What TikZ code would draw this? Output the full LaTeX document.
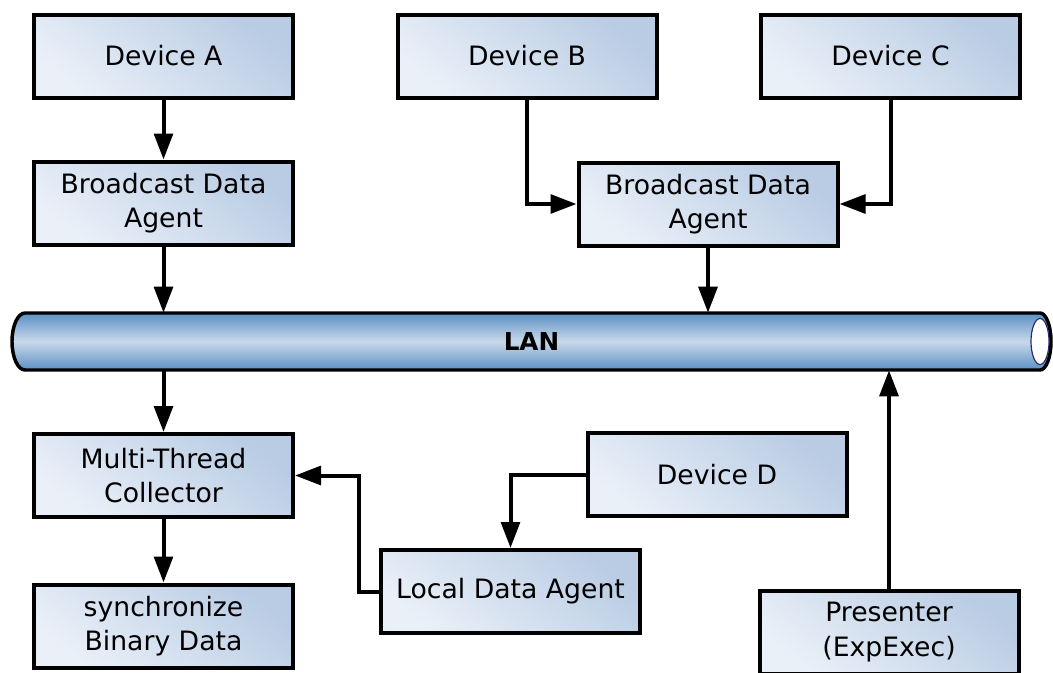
\documentclass[tikz,border=0pt]{standalone}
\usepackage{fontspec}
\setmainfont{DejaVu Sans}
\usetikzlibrary{arrows.meta}

\definecolor{boxlight}{HTML}{EAF0F8}
\definecolor{boxdark}{HTML}{B9CCE4}
\definecolor{lanedge}{HTML}{5A90C4}
\definecolor{lanmid}{HTML}{C9D8EA}
\definecolor{capline}{HTML}{2E2C6E}

\tikzset{
  stepbox/.style={draw=black, line width=3pt, rectangle,
    minimum width=194.25pt, minimum height=62.25pt, inner sep=0pt,
    top color=boxdark, bottom color=boxlight, shading angle=-40,
    align=center, font=\fontsize{20}{26}\selectfont},
  link/.style={line width=3pt, draw=black,
    -{Triangle[length=19.5pt,width=14pt]}},
}

\begin{document}
\begin{tikzpicture}[x=0.75pt, y=-0.75pt]
\useasboundingbox (0,0) rectangle (1053,672);

% network bus: tube body, open right end, label
\draw[line width=2.6pt, top color=lanedge, bottom color=lanedge, middle color=lanmid]
  (1040,313) -- (25,313)
  arc[start angle=-90, end angle=-270, x radius=13, y radius=28.5]
  -- (1040,370)
  arc[start angle=90, end angle=-90, x radius=11, y radius=28.5] -- cycle;
\draw[line width=0.9pt, draw=capline, fill=white] (1040,341.5) ellipse [x radius=9, y radius=23];
\node[minimum width=778pt, minimum height=42.75pt, inner sep=0pt,
      font=\bfseries\fontsize{18.5}{20}\selectfont] (lan) at (531.5,341.5) {LAN};

% boxes
\node[stepbox] (A)    at (163.5,56)   {Device A};
\node[stepbox] (B)    at (527,56)     {Device B};
\node[stepbox] (C)    at (890.5,56)   {Device C};
\node[stepbox] (BDA1) at (163.5,203)  {Broadcast Data\\Agent};
\node[stepbox] (BDA2) at (708,204)    {Broadcast Data\\Agent};
\node[stepbox] (MTC)  at (163.5,475.5){Multi-Thread\\Collector};
\node[stepbox] (SBD)  at (163.5,626)  {synchronize\\Binary Data};
\node[stepbox] (D)    at (717,474.5)  {Device D};
\node[stepbox] (LDA)  at (510.5,591.5){Local Data Agent};
\node[stepbox] (PR)   at (889,632)    {Presenter\\(ExpExec)};

% connectors
\draw[link] (A) -- (BDA1);
\draw[link] (BDA1) -- (BDA1 |- lan.north);
\draw[link] (B.south) |- (BDA2.west);
\draw[link] (C.south) |- (BDA2.east);
\draw[link] (BDA2) -- (BDA2 |- lan.north);
\draw[link] (lan.south -| MTC) -- (MTC);
\draw[link] (MTC) -- (SBD);
\draw[link] (D.west) -| (LDA.north);
\draw[link] (LDA.west) -- ++(-20,0) |- (MTC.east);
\draw[link] (PR.north) -- (PR.north |- lan.south);
\end{tikzpicture}
\end{document}
